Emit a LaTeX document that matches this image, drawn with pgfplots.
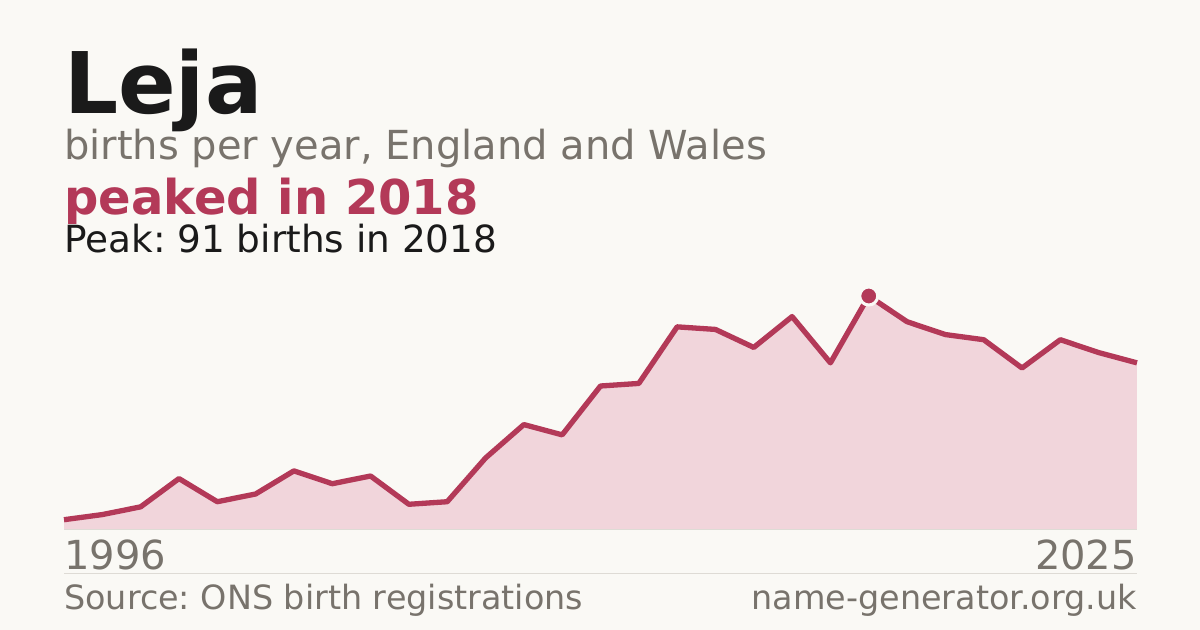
\documentclass[border=0pt]{standalone}
\usepackage{fontspec}
\setmainfont{DejaVu Sans}
\usepackage{pgfplots}
\usepackage{pgfplotstable}
\pgfplotsset{compat=1.18}
\frenchspacing

\definecolor{bg}{RGB}{250,249,245}
\definecolor{ink}{RGB}{26,26,26}
\definecolor{muted}{RGB}{120,115,108}
\definecolor{accent}{RGB}{179,57,88}
\definecolor{areafill}{RGB}{241,213,219}
\definecolor{rulecol}{RGB}{222,219,213}

% births per year, 1996 .. 2025 (plotted by position)
\pgfplotstableread{
idx births
0 4
1 6
2 9
3 20
4 11
5 14
6 23
7 18
8 21
9 10
10 11
11 28
12 41
13 37
14 56
15 57
16 79
17 78
18 71
19 83
20 65
21 91
22 81
23 76
24 74
25 63
26 74
27 69
28 65
}\births

\begin{document}
\begin{tikzpicture}
\fill[bg] (0,0) rectangle (1200bp,630bp);
\useasboundingbox (0,0) rectangle (1200bp,630bp);

\node[anchor=base west, inner sep=0, text=ink, font=\fontsize{85bp}{85bp}\selectfont\bfseries] at (64bp,516.7bp) {Leja};
\node[anchor=base west, inner sep=0, text=muted, font=\fontsize{40bp}{40bp}\selectfont] at (64bp,470.5bp) {births per year, England and Wales};
\node[anchor=base west, inner sep=0, text=accent, font=\fontsize{48bp}{48bp}\selectfont\bfseries] at (64bp,415.7bp) {peaked in 2018};
\node[anchor=base west, inner sep=0, text=ink, font=\fontsize{37.4bp}{37.4bp}\selectfont] at (64bp,377bp) {Peak: 91 births in 2018};

\begin{axis}[
  at={(64bp,100bp)}, anchor=south west,
  scale only axis, width=1073bp, height=234bp,
  xmin=0, xmax=28, ymin=0, ymax=91,
  axis lines=none, clip=false]
\addplot[fill=areafill, draw=none] table[x=idx, y=births] {\births} \closedcycle;
\addplot[accent, line width=5.3bp, line join=round] table[x=idx, y=births] {\births};
\addplot[only marks, mark=*, mark size=9bp,
  mark options={fill=accent, draw=bg, line width=3bp}] coordinates {(21,91)};
\end{axis}

\draw[rulecol, line width=1bp] (64bp,100bp) -- (1137bp,100bp);
\draw[rulecol, line width=1bp] (64bp,56bp) -- (1137bp,56bp);

\node[anchor=base west, inner sep=0, text=muted, font=\fontsize{40bp}{40bp}\selectfont] at (64bp,60.7bp) {1996};
\node[anchor=base east, inner sep=0, text=muted, font=\fontsize{40bp}{40bp}\selectfont] at (1137bp,60.7bp) {2025};
\node[anchor=base west, inner sep=0, text=muted, font=\fontsize{33.4bp}{33.4bp}\selectfont] at (64bp,20.5bp) {Source: ONS birth registrations};
\node[anchor=base east, inner sep=0, text=muted, font=\fontsize{33.4bp}{33.4bp}\selectfont] at (1137bp,20.5bp) {name-generator.org.uk};
\end{tikzpicture}
\end{document}
